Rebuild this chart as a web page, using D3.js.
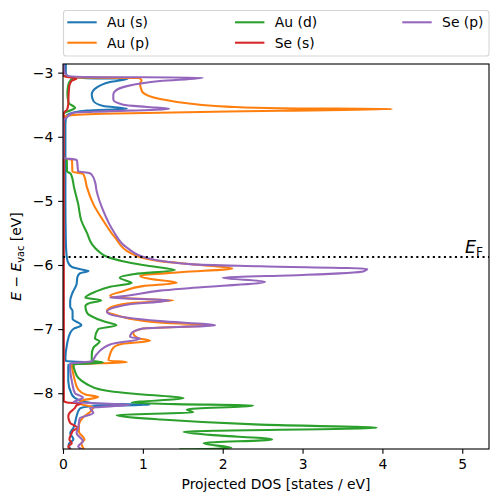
<!DOCTYPE html>
<html><head><meta charset="utf-8">
<script src="https://cdn.jsdelivr.net/npm/d3@7"></script>
<style>
body{margin:0;background:#fff}
text{font-family:"DejaVu Sans",sans-serif}
</style>
</head><body>
<svg id="chart" width="498" height="502"></svg>
<script>
// ---------- data: [energy (eV), projected DOS (states/eV)] ----------
const seriesNames = ["Au (s)", "Au (p)", "Au (d)", "Se (s)", "Se (p)"];
const seriesColors = ["#1f77b4", "#ff7f0e", "#2ca02c", "#d62728", "#9467bd"];
const fermiEnergy = -5.875;
const xTickValues = [0, 1, 2, 3, 4, 5];
const yTickValues = [-3, -4, -5, -6, -7, -8];
const xDomain = [0, 5.335];
const yDomain = [-8.87, -2.865];

const auS = [
  [-2.865,0.035],[-3.0,0.035],[-3.06,0.06],[-3.085,0.3],[-3.094,0.81],[-3.145,0.59],[-3.234,0.42],
  [-3.34,0.36],[-3.44,0.38],[-3.52,0.505],[-3.5625,0.8],[-3.59,0.3],[-3.625,0.125],[-3.67,0.046],
  [-3.8,0.03],[-4.3,0.03],[-5.0,0.03],[-5.6,0.035],[-5.85,0.045],[-5.95,0.06],[-6.03,0.11],
  [-6.075,0.25],[-6.095,0.32],[-6.13,0.21],[-6.19,0.18],[-6.3,0.17],[-6.38,0.14],[-6.46,0.11],
  [-6.56,0.09],[-6.65,0.09],[-6.72,0.12],[-6.78,0.12],[-6.84,0.12],[-6.94,0.23],[-6.99,0.14],
  [-7.06,0.09],[-7.24,0.05],[-7.46,0.03],[-7.5,0.04],[-7.525,0.5],[-7.55,0.07],[-7.6,0.066],
  [-7.81,0.066],[-8.02,0.11],[-8.1,0.19],[-8.16,0.4],[-8.18,1.09],[-8.2,0.4],[-8.24,0.21],
  [-8.36,0.17],[-8.46,0.15],[-8.54,0.13],[-8.62,0.09],[-8.72,0.13],[-8.8,0.07],[-8.87,0.09]
];
const auP = [
  [-2.865,0],[-3.05,0],[-3.07,0.1],[-3.085,0.95],[-3.12,0.985],[-3.17,0.965],[-3.24,0.975],
  [-3.31,1.0],[-3.41,1.215],[-3.49,1.63],[-3.53,2.05],[-3.556,2.72],[-3.568,4.12],[-3.594,2.72],
  [-3.64,0.5],[-3.67,0.06],[-3.72,0],[-4.33,0],[-4.36,0.11],[-4.375,0.113],[-4.545,0.118],
  [-4.57,0.23],[-4.594,0.26],[-4.79,0.3],[-5.05,0.38],[-5.31,0.505],[-5.57,0.65],[-5.81,0.84],
  [-5.94,1.215],[-6.0,1.72],
  [-6.055,2.12],[-6.11,1.5],[-6.17,0.965],[-6.22,1.1],[-6.277,1.425],[-6.33,1.0],[-6.41,0.755],
  [-6.48,0.59],[-6.52,0.8],[-6.55,1.38],[-6.6,0.8],[-6.66,0.6],[-6.72,0.55],[-6.77,0.63],
  [-6.9,1.25],[-6.94,1.88],[-6.99,1.0],[-7.06,0.88],[-7.14,0.94],[-7.18,1.09],[-7.23,0.75],
  [-7.29,0.63],[-7.39,0.59],[-7.49,0.57],[-7.515,0.8],[-7.55,0.11],[-7.71,0.13],[-7.81,0.15],
  [-7.94,0.19],[-8.02,0.28],[-8.06,0.44],[-8.11,0.25],[-8.16,0.2],[-8.22,0.38],[-8.28,0.35],
  [-8.38,0.25],[-8.5,0.2],[-8.6,0.2],[-8.72,0.27],[-8.78,0.23],[-8.87,0.26]
];
const auD = [
  [-2.865,0],[-3.04,0],[-3.065,0.08],[-3.078,0.15],[-3.11,0.1],[-3.2,0.065],[-3.33,0.055],
  [-3.47,0.07],[-3.55,0.15],[-3.59,0.09],[-3.625,0.025],[-3.66,0],[-4.33,0],[-4.36,0.046],
  [-4.375,0.048],[-4.54,0.05],[-4.57,0.09],[-4.6,0.105],[-4.8,0.14],[-5.05,0.19],[-5.31,0.23],
  [-5.5,0.3],[-5.67,0.36],
  [-5.78,0.44],[-5.87,0.55],[-5.94,0.75],[-6.0,1.0],[-6.04,1.22],[-6.08,1.4],[-6.14,0.9],
  [-6.2,0.71],[-6.28,0.86],[-6.34,0.59],[-6.42,0.4],[-6.51,0.28],[-6.55,0.48],[-6.6,0.32],
  [-6.64,0.28],[-6.745,0.3],[-6.875,0.5],[-6.94,0.67],[-7.0,0.44],[-7.145,0.4],[-7.19,0.46],
  [-7.29,0.38],[-7.395,0.36],[-7.49,0.36],[-7.52,0.5],[-7.55,0.13],[-7.66,0.15],[-7.76,0.19],
  [-7.86,0.3],[-7.94,0.46],[-7.97,0.59],[-8.02,1.0],[-8.075,1.51],[-8.15,0.86],[-8.17,1.4],
  [-8.19,2.38],[-8.255,1.55],[-8.3,1.63],[-8.34,0.67],[-8.41,1.22],[-8.49,2.47],[-8.54,3.93],
  [-8.6,1.51],[-8.65,1.85],[-8.72,2.62],[-8.78,1.76],[-8.855,2.11],[-8.875,1.47]
];
const seS = [
  [-2.865,0],[-3.04,0],[-3.06,0.03],[-3.094,0.17],[-3.125,0.11],[-3.2,0.08],[-3.35,0.07],
  [-3.5,0.065],[-3.58,0.05],[-3.61,0.02],[-3.65,0.01],[-8.12,0.01],[-8.145,0.05],[-8.158,0.23],
  [-8.19,0.17],[-8.23,0.15],[-8.31,0.08],[-8.36,0.066],[-8.46,0.088],[-8.51,0.15],[-8.54,0.19],
  [-8.58,0.13],[-8.62,0.11],[-8.72,0.08],[-8.78,0.11],[-8.83,0.066],[-8.87,0.088]
];
const seP = [
  [-2.865,0.01],[-3.0,0.02],[-3.05,0.06],[-3.068,0.3],[-3.078,1.75],[-3.13,1.215],[-3.21,0.8],
  [-3.28,0.66],[-3.34,0.63],[-3.42,0.63],[-3.5,0.755],[-3.535,1.05],[-3.5625,1.33],[-3.61,0.38],
  [-3.625,0.13],[-3.7,0.046],[-3.76,0],[-4.33,0],[-4.36,0.17],[-4.375,0.175],[-4.54,0.19],
  [-4.565,0.33],[-4.594,0.36],[-4.7,0.4],
  [-4.84,0.42],[-5.156,0.505],[-5.47,0.63],[-5.73,0.8],[-5.89,1.05],[-5.99,1.63],[-6.02,2.47],
  [-6.06,3.81],[-6.1,3.76],[-6.156,3.0],[-6.2,2.0],[-6.26,2.53],[-6.355,1.63],[-6.4,1.215],
  [-6.48,0.8],[-6.51,0.59],[-6.55,1.34],[-6.62,0.8],[-6.73,0.55],[-6.77,0.59],[-6.875,1.215],
  [-6.94,1.905],[-6.99,1.0],[-7.06,0.86],[-7.125,0.84],[-7.145,0.965],[-7.24,0.59],[-7.395,0.42],
  [-7.5,0.36],[-7.54,0.088],[-7.58,0.088],[-7.81,0.11],[-8.0,0.15],[-8.07,0.25],[-8.14,0.13],
  [-8.18,0.84],[-8.23,0.34],[-8.31,0.38],[-8.39,0.21],[-8.54,0.19],[-8.62,0.17],[-8.75,0.25],
  [-8.83,0.19],[-8.87,0.23]
];
const seriesData = [auS, auP, auD, seS, seP];

// ---------- layout ----------
const svg = d3.select("#chart");
const L = 63, R = 489, T = 64, B = 449;
const fs = 13.9, lw = 2.08, tick = 4.86;

const x = d3.scaleLinear().domain(xDomain).range([L, R]);
const y = d3.scaleLinear().domain(yDomain).range([B, T]);

svg.append("defs").append("clipPath").attr("id", "clip")
  .append("rect").attr("x", L).attr("y", T).attr("width", R - L).attr("height", B - T);

const line = d3.line().x(d => x(d[1])).y(d => y(d[0])).curve(d3.curveMonotoneY);

const plot = svg.append("g").attr("clip-path", "url(#clip)");
seriesData.forEach((s, i) => {
  plot.append("path").datum(s).attr("d", line)
    .attr("fill", "none").attr("stroke", seriesColors[i])
    .attr("stroke-width", lw).attr("stroke-linejoin", "round").attr("stroke-linecap", "square");
});

// Fermi level
svg.append("line").attr("x1", x(xDomain[0])).attr("x2", x(xDomain[1]))
  .attr("y1", y(fermiEnergy)).attr("y2", y(fermiEnergy))
  .attr("stroke", "#000").attr("stroke-width", lw).attr("stroke-dasharray", "2.08,3.44");

const ef = svg.append("text").attr("x", 465).attr("y", y(fermiEnergy) - 4)
  .attr("font-size", 17.5).attr("fill", "#000");
ef.append("tspan").attr("font-style", "italic").text("E");
ef.append("tspan").attr("font-size", 12.2).attr("dy", 3.5).text("F");

// axes
const xAxis = d3.axisBottom(x).tickValues(xTickValues).tickSize(tick).tickPadding(4.86)
  .tickFormat(d3.format("d"));
const yAxis = d3.axisLeft(y).tickValues(yTickValues).tickSize(tick).tickPadding(4.86)
  .tickFormat(d3.format("d"));
const gx = svg.append("g").attr("transform", `translate(0,${B})`).call(xAxis);
const gy = svg.append("g").attr("transform", `translate(${L},0)`).call(yAxis);
[gx, gy].forEach(g => {
  g.select(".domain").remove();
  g.selectAll("line").attr("stroke", "#000").attr("stroke-width", 1.1);
  g.selectAll("text").attr("font-size", fs).attr("fill", "#000")
    .attr("font-family", "DejaVu Sans, sans-serif");
});

svg.append("rect").attr("x", L).attr("y", T).attr("width", R - L).attr("height", B - T)
  .attr("fill", "none").attr("stroke", "#000").attr("stroke-width", 1.1);

// axis labels
svg.append("text").attr("x", (L + R) / 2).attr("y", 489).attr("text-anchor", "middle")
  .attr("font-size", fs).attr("fill", "#000").text("Projected DOS [states / eV]");

const yl = svg.append("text").attr("transform", `translate(21,${(T + B) / 2}) rotate(-90)`)
  .attr("text-anchor", "middle").attr("font-size", fs).attr("fill", "#000");
yl.append("tspan").attr("font-style", "italic").text("E");
yl.append("tspan").text(" \u2212 ");
yl.append("tspan").attr("font-style", "italic").text("E");
yl.append("tspan").attr("font-size", 9.7).attr("dy", 2.5).text("vac");
yl.append("tspan").attr("dy", -2.5).text(" [eV]");

// legend
const lg = svg.append("g");
lg.append("rect").attr("x", 63.5).attr("y", 10.5).attr("width", 425.5).attr("height", 45.5)
  .attr("rx", 2.8).attr("fill", "#fff").attr("fill-opacity", 0.8)
  .attr("stroke", "#d5d5d5").attr("stroke-width", 1.1);
const colX = [67.3, 235, 402.3];
const rowY = [22.3, 42.7];
seriesNames.forEach((name, i) => {
  const c = Math.floor(i / 2), r = i % 2;
  lg.append("line").attr("x1", colX[c]).attr("x2", colX[c] + 29.4)
    .attr("y1", rowY[r]).attr("y2", rowY[r])
    .attr("stroke", seriesColors[i]).attr("stroke-width", lw);
  lg.append("text").attr("x", colX[c] + 39.8).attr("y", rowY[r] + 5)
    .attr("font-size", fs).attr("fill", "#000").text(name);
});
</script>
</body></html>
